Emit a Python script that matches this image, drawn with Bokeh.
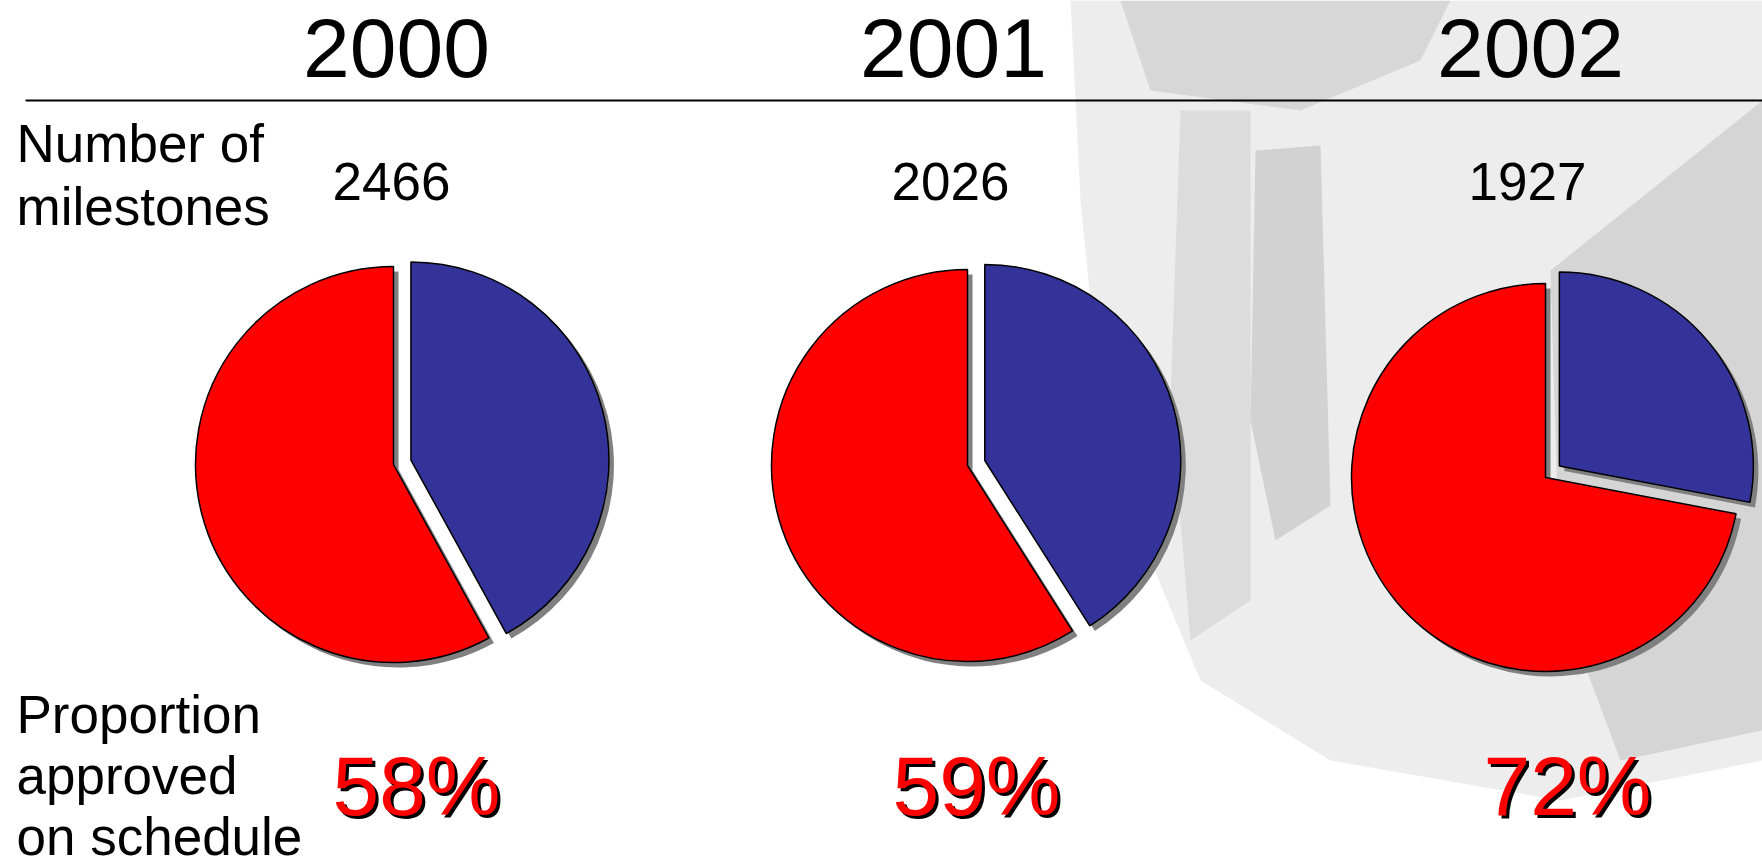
import math
from bokeh.plotting import figure
from bokeh.models import Range1d, ColumnDataSource
from bokeh.core.properties import value
from bokeh.embed import file_html
from bokeh.resources import INLINE

# ---------------- data ----------------
years = ["2000", "2001", "2002"]
milestones = [2466, 2026, 1927]
approved_pct = [58, 59, 72]          # red share (approved on schedule)
row_label_top = ["Number of", "milestones"]
row_label_bottom = ["Proportion", "approved", "on schedule"]

# ---------------- layout (reference pixel coords, y downward) ----------------
W, H = 1762, 868
def Y(ry):
    return H - ry

BASE_K = 0.35   # renderer baseline correction (fraction of font size)
def TY(ry, fs):
    return Y(ry) + BASE_K * fs

pie_cx = [393, 967, 1545]
pie_cy = [464, 465, 477]
pie_r = [198, 196, 194]
title_x = [396, 953, 1530]
num_x = [391, 950, 1527]
pct_x = [416, 976, 1567]
explode = 18
shadow = 5
FONT = value("Liberation Sans")
FS_TITLE, FS_LAB, FS_PCT = 84, 53, 84

p = figure(width=W, height=H, x_range=Range1d(0, W), y_range=Range1d(0, H),
           output_backend="svg", toolbar_location=None, min_border=0)
p.axis.visible = False
p.grid.visible = False
p.outline_line_color = None
p.background_fill_color = "white"
p.border_fill_color = "white"

# ---------------- faint grey photo backdrop (decoration) ----------------
backdrop = [
    ([1070, 1762, 1762, 1560, 1330, 1200, 1150, 1100, 1080],
     [0, 0, 760, 800, 760, 680, 560, 400, 200], "#d6d6d6", 0.45),
    ([1120, 1450, 1420, 1300, 1150], [0, 0, 60, 110, 90], "#b0b0b0", 0.35),
    ([1180, 1250, 1250, 1190, 1170], [110, 110, 600, 640, 400], "#b5b5b5", 0.3),
    ([1255, 1320, 1330, 1275, 1250], [150, 145, 505, 540, 420], "#a0a0a0", 0.35),
    ([1550, 1762, 1762, 1620, 1560], [270, 100, 730, 760, 600], "#a8a8a8", 0.35),
]
for xs, ys, col, a in backdrop:
    p.patch(xs, [Y(v) for v in ys], fill_color=col, fill_alpha=a, line_color=None)

# ---------------- pies ----------------
sx, sy, sr, ss, se = [], [], [], [], []   # shadows
bx, by, br, bs, be = [], [], [], [], []   # blue (not approved on schedule)
rx, ry, rr, rs, re = [], [], [], [], []   # red (approved)
for i, pct in enumerate(approved_pct):
    theta_b = 2 * math.pi * (100 - pct) / 100.0   # clockwise from 12 o'clock
    half = theta_b / 2
    cx, cy = pie_cx[i], Y(pie_cy[i])
    ox, oy = explode * math.sin(half), explode * math.cos(half)
    b_start, b_end = math.pi / 2 - theta_b, math.pi / 2
    r_start, r_end = math.pi / 2, math.pi / 2 - theta_b
    bx.append(cx + ox); by.append(cy + oy); br.append(pie_r[i]); bs.append(b_start); be.append(b_end)
    rx.append(cx); ry.append(cy); rr.append(pie_r[i]); rs.append(r_start); re.append(r_end)
    sx += [cx + shadow, cx + ox + shadow]
    sy += [cy - shadow, cy + oy - shadow]
    sr += [pie_r[i], pie_r[i]]
    ss += [r_start, b_start]
    se += [r_end, b_end]

p.wedge(x="x", y="y", radius="r", start_angle="s", end_angle="e",
        source=ColumnDataSource(dict(x=sx, y=sy, r=sr, s=ss, e=se)),
        fill_color="#808080", line_color=None)
p.wedge(x="x", y="y", radius="r", start_angle="s", end_angle="e",
        source=ColumnDataSource(dict(x=rx, y=ry, r=rr, s=rs, e=re)),
        fill_color="#ff0000", line_color="black", line_width=1.5)
p.wedge(x="x", y="y", radius="r", start_angle="s", end_angle="e",
        source=ColumnDataSource(dict(x=bx, y=by, r=br, s=bs, e=be)),
        fill_color="#333399", line_color="black", line_width=1.5)

# ---------------- header ----------------
p.text(x=title_x, y=[TY(77, FS_TITLE)] * 3, text=years, text_font=FONT,
       text_font_size=f"{FS_TITLE}px", text_align="center", text_baseline="alphabetic",
       text_color="black")
p.segment(x0=[25], y0=[Y(100)], x1=[W], y1=[Y(100)], line_color="black", line_width=1.8)

# ---------------- milestones ----------------
p.text(x=[16, 16], y=[TY(162, FS_LAB), TY(225, FS_LAB)], text=row_label_top, text_font=FONT,
       text_font_size=f"{FS_LAB}px", text_align="left", text_baseline="alphabetic",
       text_color="black")
p.text(x=num_x, y=[TY(200, FS_LAB)] * 3, text=[str(m) for m in milestones], text_font=FONT,
       text_font_size=f"{FS_LAB}px", text_align="center", text_baseline="alphabetic",
       text_color="black")

# ---------------- proportions ----------------
p.text(x=[16, 16, 16], y=[TY(733, FS_LAB), TY(794, FS_LAB), TY(855, FS_LAB)],
       text=row_label_bottom, text_font=FONT, text_font_size=f"{FS_LAB}px",
       text_align="left", text_baseline="alphabetic", text_color="black")
pct_txt = [f"{v}%" for v in approved_pct]
p.text(x=[v + 3 for v in pct_x], y=[TY(815, FS_PCT) - 3] * 3, text=pct_txt, text_font=FONT,
       text_font_size=f"{FS_PCT}px", text_align="center", text_baseline="alphabetic",
       text_color="black")
p.text(x=pct_x, y=[TY(815, FS_PCT)] * 3, text=pct_txt, text_font=FONT,
       text_font_size=f"{FS_PCT}px", text_align="center", text_baseline="alphabetic",
       text_color="#ff0000")

open("out.html", "w").write(file_html(p, INLINE))
